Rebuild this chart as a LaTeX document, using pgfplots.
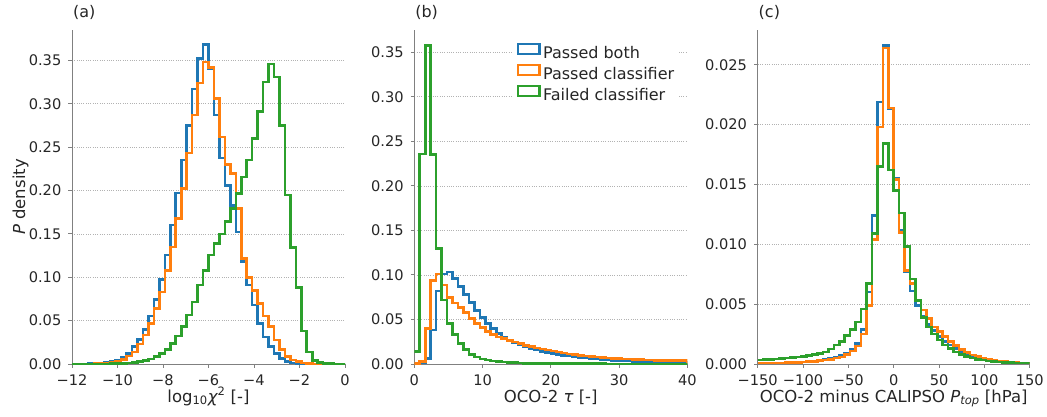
\documentclass[border=0pt]{standalone}
\usepackage{fontspec}
\setmainfont{DejaVu Sans}
\usepackage{pgfplots}
\pgfplotsset{compat=1.18}
\usepackage{pgfplotstable}

\definecolor{tabblue}{HTML}{1F77B4}
\definecolor{taborange}{HTML}{FF7F0E}
\definecolor{tabgreen}{HTML}{2CA02C}

% bin left edges (last row = right edge of last bin); b = passed both, o = passed classifier, g = failed classifier
\pgfplotstableread{
x b o g
-12.00 0.0001 0.0000 0.0001
-11.76 0.0001 0.0001 0.0001
-11.52 0.0002 0.0001 0.0001
-11.28 0.0003 0.0002 0.0001
-11.04 0.0005 0.0004 0.0001
-10.80 0.0009 0.0006 0.0001
-10.56 0.0016 0.0010 0.0002
-10.32 0.0028 0.0018 0.0003
-10.08 0.0046 0.0030 0.0005
-9.84 0.0077 0.0054 0.0008
-9.60 0.0123 0.0092 0.0012
-9.36 0.0200 0.0140 0.0018
-9.12 0.0284 0.0230 0.0027
-8.88 0.0400 0.0334 0.0038
-8.64 0.0553 0.0470 0.0058
-8.40 0.0745 0.0640 0.0084
-8.16 0.0975 0.0830 0.0123
-7.92 0.1255 0.1080 0.0170
-7.68 0.1600 0.1350 0.0238
-7.44 0.1970 0.1680 0.0322
-7.20 0.2350 0.2020 0.0430
-6.96 0.2750 0.2430 0.0564
-6.72 0.3170 0.2870 0.0717
-6.48 0.3520 0.3240 0.0910
-6.24 0.3680 0.3480 0.1080
-6.00 0.3400 0.3420 0.1255
-5.76 0.2870 0.3060 0.1390
-5.52 0.2375 0.2617 0.1500
-5.28 0.2060 0.2300 0.1640
-5.04 0.1830 0.2195 0.1790
-4.80 0.1520 0.1790 0.1965
-4.56 0.1180 0.1217 0.2156
-4.32 0.0910 0.0998 0.2350
-4.08 0.0680 0.0850 0.2600
-3.84 0.0470 0.0700 0.2910
-3.60 0.0310 0.0553 0.3250
-3.36 0.0200 0.0430 0.3460
-3.12 0.0120 0.0276 0.3310
-2.88 0.0066 0.0170 0.2750
-2.64 0.0027 0.0084 0.1946
-2.40 0.0012 0.0046 0.1340
-2.16 0.0005 0.0027 0.0880
-1.92 0.0002 0.0010 0.0380
-1.68 0.0001 0.0004 0.0140
-1.44 0.0001 0.0002 0.0040
-1.20 0.0000 0.0001 0.0015
-0.96 0.0000 0.0000 0.0008
-0.72 0.0000 0.0000 0.0004
-0.48 0.0000 0.0000 0.0002
-0.24 0.0000 0.0000 0.0001
0.00 0 0 0
}\tabA

\pgfplotstableread{
x b o g
0.0 0.0003 0.0005 0.0140
0.8 0.0015 0.0030 0.2360
1.6 0.0060 0.0400 0.3576
2.4 0.0380 0.0940 0.2350
3.2 0.0820 0.1010 0.1297
4.0 0.1010 0.0886 0.0720
4.8 0.1035 0.0747 0.0456
5.6 0.0960 0.0687 0.0330
6.4 0.0870 0.0635 0.0230
7.2 0.0780 0.0575 0.0160
8.0 0.0690 0.0512 0.0110
8.8 0.0600 0.0456 0.0080
9.6 0.0520 0.0407 0.0058
10.4 0.0455 0.0362 0.0044
11.2 0.0400 0.0330 0.0034
12.0 0.0345 0.0305 0.0027
12.8 0.0300 0.0285 0.0021
13.6 0.0268 0.0265 0.0017
14.4 0.0240 0.0247 0.0014
15.2 0.0215 0.0228 0.0011
16.0 0.0194 0.0210 0.0009
16.8 0.0175 0.0195 0.0008
17.6 0.0158 0.0180 0.0007
18.4 0.0143 0.0167 0.0006
19.2 0.0130 0.0155 0.0005
20.0 0.0118 0.0144 0.0005
20.8 0.0107 0.0133 0.0004
21.6 0.0097 0.0123 0.0004
22.4 0.0088 0.0114 0.0004
23.2 0.0080 0.0106 0.0004
24.0 0.0073 0.0098 0.0003
24.8 0.0066 0.0091 0.0003
25.6 0.0060 0.0085 0.0003
26.4 0.0055 0.0079 0.0003
27.2 0.0050 0.0074 0.0003
28.0 0.0046 0.0069 0.0002
28.8 0.0042 0.0064 0.0002
29.6 0.0038 0.0060 0.0002
30.4 0.0035 0.0057 0.0002
31.2 0.0032 0.0054 0.0002
32.0 0.0030 0.0051 0.0002
32.8 0.0028 0.0048 0.0002
33.6 0.0026 0.0046 0.0002
34.4 0.0024 0.0044 0.0002
35.2 0.0023 0.0042 0.0001
36.0 0.0022 0.0040 0.0001
36.8 0.0021 0.0039 0.0001
37.6 0.0020 0.0038 0.0001
38.4 0.0019 0.0037 0.0001
39.2 0.0018 0.0036 0.0001
40.0 0 0 0
}\tabB

\pgfplotstableread{
x b o g
-150 0.00007 0.00007 0.00035
-144 0.00008 0.00008 0.00037
-138 0.00009 0.00009 0.00040
-132 0.00010 0.00010 0.00043
-126 0.00010 0.00010 0.00047
-120 0.00012 0.00012 0.00050
-114 0.00013 0.00013 0.00055
-108 0.00015 0.00015 0.00060
-102 0.00018 0.00017 0.00065
-96 0.00020 0.00020 0.00070
-90 0.00025 0.00023 0.00080
-84 0.00030 0.00028 0.00090
-78 0.00037 0.00034 0.00100
-72 0.00045 0.00040 0.00125
-66 0.00055 0.00050 0.00160
-60 0.00070 0.00060 0.00190
-54 0.00090 0.00080 0.00240
-48 0.00120 0.00110 0.00290
-42 0.00170 0.00150 0.00350
-36 0.00290 0.00250 0.00460
-30 0.00600 0.00490 0.00670
-24 0.01240 0.01040 0.01090
-18 0.02190 0.01980 0.01650
-12 0.02660 0.02640 0.01840
-6 0.02130 0.02140 0.01620
0 0.01550 0.01540 0.01450
6 0.01120 0.01100 0.01260
12 0.00770 0.00780 0.00980
18 0.00610 0.00670 0.00710
24 0.00490 0.00530 0.00530
30 0.00400 0.00450 0.00390
36 0.00330 0.00380 0.00310
42 0.00280 0.00310 0.00250
48 0.00230 0.00270 0.00200
54 0.00190 0.00230 0.00160
60 0.00160 0.00186 0.00130
66 0.00130 0.00153 0.00100
72 0.00105 0.00122 0.00080
78 0.00085 0.00097 0.00062
84 0.00068 0.00075 0.00050
90 0.00055 0.00061 0.00040
96 0.00044 0.00047 0.00032
102 0.00035 0.00038 0.00026
108 0.00028 0.00030 0.00020
114 0.00022 0.00024 0.00017
120 0.00018 0.00020 0.00014
126 0.00014 0.00016 0.00012
132 0.00012 0.00013 0.00010
138 0.00010 0.00010 0.00008
144 0.00008 0.00009 0.00007
150 0 0 0
}\tabC

\pgfplotsset{
  histpanel/.style={
    scale only axis, width=273pt, height=334pt,
    axis x line*=bottom, axis y line*=left,
    axis line style={black!50, line width=0.9pt},
    tick align=outside, major tick length=3.5pt,
    tick style={black!50, line width=0.9pt},
    tick label style={font=\fontsize{14.6}{14.6}\selectfont, text=black!85},
    xticklabel style={anchor=base, inner sep=0pt, yshift=-18.3pt},
    yticklabel style={anchor=east, inner sep=0pt, xshift=-7pt},
    ymajorgrids,
    major grid style={black!30, line width=0.7pt, dash pattern=on 0.9pt off 1.4pt},
    ymin=0, scaled ticks=false,
    label style={font=\fontsize{16.5}{16.5}\selectfont, text=black!85},
    xlabel style={at={(axis description cs:0.5,-0.114)}, anchor=base, inner sep=0pt},
    title style={font=\fontsize{16}{16}\selectfont, text=black!85,
      at={(axis description cs:0.003,1.0195)}, anchor=base west, inner sep=0pt},
    every axis plot/.append style={line width=2.6pt, const plot mark left, no markers},
  }
}

\begin{document}
\begin{tikzpicture}
\path[use as bounding box] (0,0) rectangle (1047pt,416pt);

% (a)
\begin{axis}[histpanel, at={(72pt,52pt)}, anchor=south west,
  xmin=-12, xmax=0, ymax=0.385,
  xtick={-12,-10,-8,-6,-4,-2,0},
  xticklabels={−12,−10,−8,−6,−4,−2,0},
  ytick={0,0.05,0.10,0.15,0.20,0.25,0.30,0.35},
  yticklabels={0.00,0.05,0.10,0.15,0.20,0.25,0.30,0.35},
  title={(a)},
  xlabel={log\textsubscript{10}{\itshape χ}\textsuperscript{2} [-]},
  ylabel={{\itshape P} density},
  ylabel style={at={(axis description cs:-0.172,0.5)}, anchor=base, inner sep=0pt},
]
\addplot[tabblue] table[x=x, y=b] {\tabA};
\addplot[taborange] table[x=x, y=o] {\tabA};
\addplot[tabgreen] table[x=x, y=g] {\tabA};
\end{axis}

% (b)
\begin{axis}[histpanel, at={(414.3pt,52pt)}, anchor=south west,
  xmin=0, xmax=40, ymax=0.375,
  xtick={0,10,20,30,40},
  xticklabels={0,10,20,30,40},
  ytick={0,0.05,0.10,0.15,0.20,0.25,0.30,0.35},
  yticklabels={0.00,0.05,0.10,0.15,0.20,0.25,0.30,0.35},
  title={(b)},
  xlabel={OCO-2 {\itshape τ} [-]},
  legend style={at={(axis description cs:0.356,0.972)}, anchor=north west,
    draw=none, fill=white, inner xsep=5pt, inner ysep=3pt,
    font=\fontsize{16}{16}\selectfont, text=black!85, row sep=1pt,
    nodes={inner sep=0pt, text height=12pt, text depth=4pt},
    cells={anchor=west},
    /tikz/every odd column/.append style={column sep=2.4pt}},
  legend image code/.code={\draw[#1, line width=2.4pt, fill=white] (0pt,0.8pt) rectangle (21.6pt,10.8pt);},
]
\addplot[tabblue] table[x=x, y=b] {\tabB};
\addlegendentry{Passed both}
\addplot[taborange] table[x=x, y=o] {\tabB};
\addlegendentry{Passed classifier}
\addplot[tabgreen] table[x=x, y=g] {\tabB};
\addlegendentry{Failed classifier}
\end{axis}

% (c)
\begin{axis}[histpanel, at={(757.7pt,52pt)}, anchor=south west, width=272pt,
  xmin=-150, xmax=150, ymax=0.0279,
  xtick={-150,-100,-50,0,50,100,150},
  xticklabels={−150,−100,−50,0,50,100,150},
  ytick={0,0.005,0.010,0.015,0.020,0.025},
  yticklabels={0.000,0.005,0.010,0.015,0.020,0.025},
  title={(c)},
  xlabel={OCO-2 minus CALIPSO {\itshape P}\textsubscript{\itshape top} [hPa]},
]
\addplot[tabblue] table[x=x, y=b] {\tabC};
\addplot[taborange] table[x=x, y=o] {\tabC};
\addplot[tabgreen] table[x=x, y=g] {\tabC};
\end{axis}
\end{tikzpicture}
\end{document}
